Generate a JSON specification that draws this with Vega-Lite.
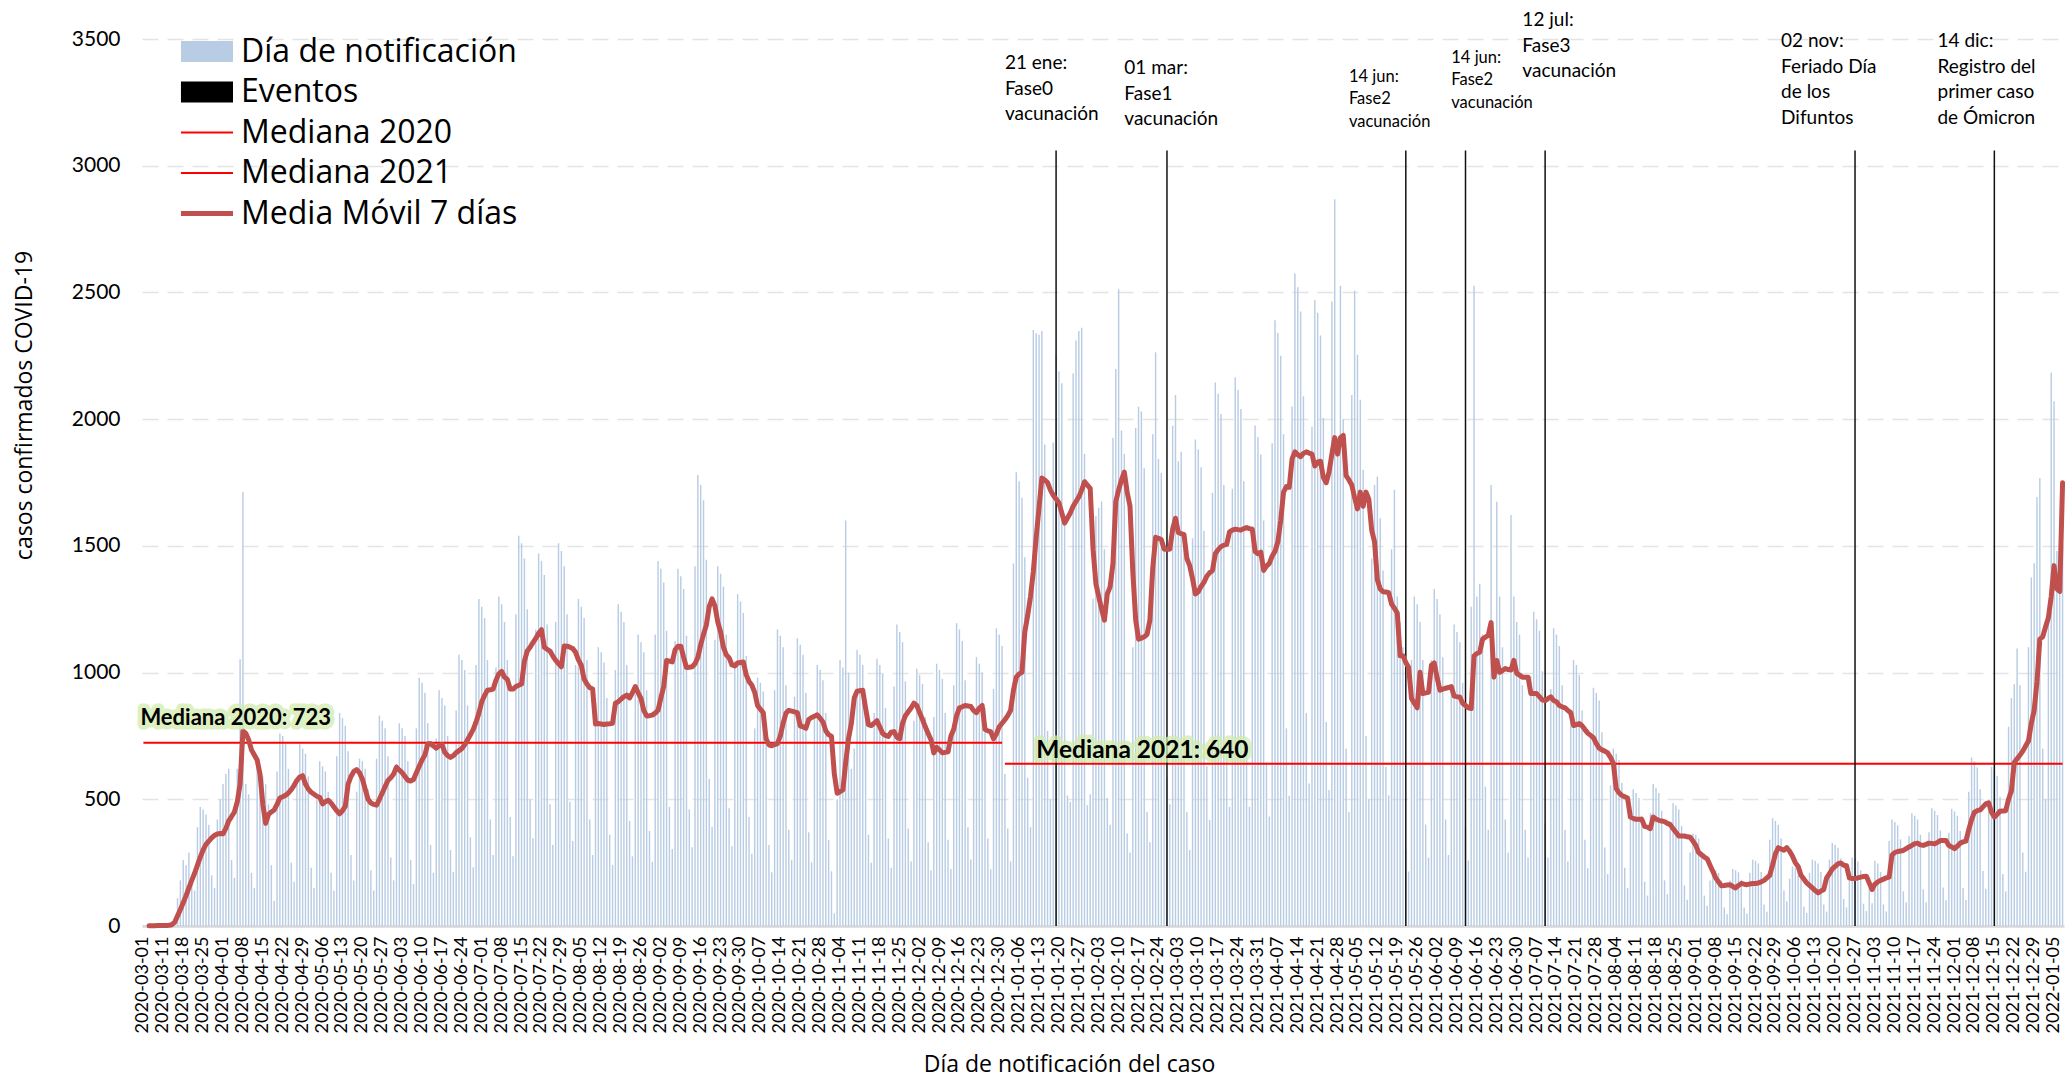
{
"$schema":"https://vega.github.io/schema/vega-lite/v6.json",
"width":1922,"height":887,
"autosize":{"type":"none"},
"padding":{"left":142,"top":39,"right":1,"bottom":154},
"background":"white",
"config":{"font":"Lato","view":{"stroke":null},"axis":{"labelColor":"#000","titleColor":"#000","titleFontWeight":"normal","labelFont":"Lato","titleFont":"Open Sans"}},
"datasets":{
"main":[
{"d":"2020-03-01","c":1},{"d":"2020-03-05","c":2},{"d":"2020-03-06","c":1,"m":1},{"d":"2020-03-07","c":1,"m":1},{"d":"2020-03-08","c":0,"m":1},{"d":"2020-03-09","c":3,"m":2},{"d":"2020-03-10","c":2,"m":2},{"d":"2020-03-11","c":3,"m":2},{"d":"2020-03-12","c":1,"m":2},{"d":"2020-03-13","c":6,"m":3},{"d":"2020-03-14","c":12,"m":5},{"d":"2020-03-15","c":25,"m":15},{"d":"2020-03-16","c":110,"m":40},{"d":"2020-03-17","c":180,"m":65},{"d":"2020-03-18","c":260,"m":92},{"d":"2020-03-19","c":240,"m":120},{"d":"2020-03-20","c":290,"m":150},{"d":"2020-03-21","c":180,"m":180},{"d":"2020-03-22","c":140,"m":208},{"d":"2020-03-23","c":390,"m":240},{"d":"2020-03-24","c":470,"m":272},{"d":"2020-03-25","c":460,"m":300},{"d":"2020-03-26","c":440,"m":322},{"d":"2020-03-27","c":400,"m":335},{"d":"2020-03-28","c":200,"m":348},{"d":"2020-03-29","c":150,"m":358},{"d":"2020-03-30","c":420,"m":363},{"d":"2020-03-31","c":500,"m":365},
{"d":"2020-04-01","c":560,"m":364},{"d":"2020-04-02","c":600,"m":385},{"d":"2020-04-03","c":620,"m":415},{"d":"2020-04-04","c":260,"m":432},{"d":"2020-04-05","c":190,"m":450},{"d":"2020-04-06","c":620,"m":490},{"d":"2020-04-07","c":1053,"m":560},{"d":"2020-04-08","c":1713,"m":770},{"d":"2020-04-09","c":560,"m":760},{"d":"2020-04-10","c":520,"m":735},{"d":"2020-04-11","c":210,"m":695},{"d":"2020-04-12","c":150,"m":675},{"d":"2020-04-13","c":640,"m":655},{"d":"2020-04-14","c":600,"m":600},{"d":"2020-04-15","c":590,"m":480},{"d":"2020-04-16","c":560,"m":405},{"d":"2020-04-17","c":480,"m":440},{"d":"2020-04-18","c":240,"m":450},{"d":"2020-04-19","c":100,"m":458},{"d":"2020-04-20","c":610,"m":480},{"d":"2020-04-21","c":760,"m":505},{"d":"2020-04-22","c":750,"m":510},{"d":"2020-04-23","c":720,"m":516},{"d":"2020-04-24","c":620,"m":525},{"d":"2020-04-25","c":250,"m":538},{"d":"2020-04-26","c":175,"m":555},{"d":"2020-04-27","c":570,"m":575},{"d":"2020-04-28","c":720,"m":588},{"d":"2020-04-29","c":700,"m":593},{"d":"2020-04-30","c":680,"m":560},
{"d":"2020-05-01","c":590,"m":540},{"d":"2020-05-02","c":230,"m":528},{"d":"2020-05-03","c":150,"m":520},{"d":"2020-05-04","c":520,"m":512},{"d":"2020-05-05","c":650,"m":508},{"d":"2020-05-06","c":630,"m":482},{"d":"2020-05-07","c":610,"m":490},{"d":"2020-05-08","c":530,"m":496},{"d":"2020-05-09","c":210,"m":485},{"d":"2020-05-10","c":140,"m":470},{"d":"2020-05-11","c":670,"m":455},{"d":"2020-05-12","c":840,"m":443},{"d":"2020-05-13","c":820,"m":455},{"d":"2020-05-14","c":790,"m":472},{"d":"2020-05-15","c":690,"m":560},{"d":"2020-05-16","c":280,"m":590},{"d":"2020-05-17","c":180,"m":610},{"d":"2020-05-18","c":530,"m":617},{"d":"2020-05-19","c":660,"m":605},{"d":"2020-05-20","c":650,"m":580},{"d":"2020-05-21","c":620,"m":540},{"d":"2020-05-22","c":540,"m":500},{"d":"2020-05-23","c":220,"m":485},{"d":"2020-05-24","c":140,"m":480},{"d":"2020-05-25","c":660,"m":477},{"d":"2020-05-26","c":830,"m":500},{"d":"2020-05-27","c":810,"m":525},{"d":"2020-05-28","c":780,"m":550},{"d":"2020-05-29","c":670,"m":574},{"d":"2020-05-30","c":270,"m":585},{"d":"2020-05-31","c":180,"m":600},
{"d":"2020-06-01","c":640,"m":627},{"d":"2020-06-02","c":800,"m":615},{"d":"2020-06-03","c":780,"m":605},{"d":"2020-06-04","c":750,"m":590},{"d":"2020-06-05","c":650,"m":575},{"d":"2020-06-06","c":260,"m":572},{"d":"2020-06-07","c":166,"m":578},{"d":"2020-06-08","c":780,"m":605},{"d":"2020-06-09","c":980,"m":630},{"d":"2020-06-10","c":960,"m":655},{"d":"2020-06-11","c":920,"m":675},{"d":"2020-06-12","c":800,"m":718},{"d":"2020-06-13","c":320,"m":720},{"d":"2020-06-14","c":210,"m":710},{"d":"2020-06-15","c":740,"m":702},{"d":"2020-06-16","c":930,"m":712},{"d":"2020-06-17","c":900,"m":716},{"d":"2020-06-18","c":870,"m":685},{"d":"2020-06-19","c":750,"m":672},{"d":"2020-06-20","c":300,"m":665},{"d":"2020-06-21","c":214,"m":672},{"d":"2020-06-22","c":850,"m":684},{"d":"2020-06-23","c":1070,"m":692},{"d":"2020-06-24","c":1050,"m":700},{"d":"2020-06-25","c":1010,"m":715},{"d":"2020-06-26","c":870,"m":735},{"d":"2020-06-27","c":350,"m":755},{"d":"2020-06-28","c":232,"m":776},{"d":"2020-06-29","c":1030,"m":805},{"d":"2020-06-30","c":1290,"m":840},
{"d":"2020-07-01","c":1260,"m":885},{"d":"2020-07-02","c":1215,"m":910},{"d":"2020-07-03","c":1050,"m":930},{"d":"2020-07-04","c":420,"m":932},{"d":"2020-07-05","c":280,"m":935},{"d":"2020-07-06","c":1020,"m":970},{"d":"2020-07-07","c":1300,"m":995},{"d":"2020-07-08","c":1270,"m":1005},{"d":"2020-07-09","c":1200,"m":982},{"d":"2020-07-10","c":1050,"m":973},{"d":"2020-07-11","c":430,"m":935},{"d":"2020-07-12","c":275,"m":935},{"d":"2020-07-13","c":1230,"m":945},{"d":"2020-07-14","c":1540,"m":950},{"d":"2020-07-15","c":1510,"m":955},{"d":"2020-07-16","c":1450,"m":1045},{"d":"2020-07-17","c":1250,"m":1085},{"d":"2020-07-18","c":500,"m":1100},{"d":"2020-07-19","c":346,"m":1118},{"d":"2020-07-20","c":1170,"m":1135},{"d":"2020-07-21","c":1470,"m":1155},{"d":"2020-07-22","c":1440,"m":1169},{"d":"2020-07-23","c":1385,"m":1100},{"d":"2020-07-24","c":1190,"m":1092},{"d":"2020-07-25","c":480,"m":1085},{"d":"2020-07-26","c":320,"m":1065},{"d":"2020-07-27","c":1200,"m":1048},{"d":"2020-07-28","c":1510,"m":1035},{"d":"2020-07-29","c":1480,"m":1023},{"d":"2020-07-30","c":1420,"m":1105},{"d":"2020-07-31","c":1230,"m":1104},
{"d":"2020-08-01","c":490,"m":1100},{"d":"2020-08-02","c":335,"m":1095},{"d":"2020-08-03","c":1030,"m":1080},{"d":"2020-08-04","c":1290,"m":1050},{"d":"2020-08-05","c":1260,"m":1029},{"d":"2020-08-06","c":1215,"m":975},{"d":"2020-08-07","c":1050,"m":955},{"d":"2020-08-08","c":420,"m":940},{"d":"2020-08-09","c":280,"m":935},{"d":"2020-08-10","c":880,"m":797},{"d":"2020-08-11","c":1100,"m":799},{"d":"2020-08-12","c":1080,"m":797},{"d":"2020-08-13","c":1040,"m":795},{"d":"2020-08-14","c":900,"m":797},{"d":"2020-08-15","c":360,"m":798},{"d":"2020-08-16","c":240,"m":800},{"d":"2020-08-17","c":1010,"m":879},{"d":"2020-08-18","c":1270,"m":885},{"d":"2020-08-19","c":1240,"m":895},{"d":"2020-08-20","c":1200,"m":905},{"d":"2020-08-21","c":1030,"m":911},{"d":"2020-08-22","c":415,"m":900},{"d":"2020-08-23","c":275,"m":920},{"d":"2020-08-24","c":915,"m":945},{"d":"2020-08-25","c":1150,"m":920},{"d":"2020-08-26","c":1120,"m":898},{"d":"2020-08-27","c":1080,"m":850},{"d":"2020-08-28","c":930,"m":829},{"d":"2020-08-29","c":375,"m":830},{"d":"2020-08-30","c":254,"m":832},{"d":"2020-08-31","c":1150,"m":840},
{"d":"2020-09-01","c":1440,"m":851},{"d":"2020-09-02","c":1410,"m":900},{"d":"2020-09-03","c":1355,"m":945},{"d":"2020-09-04","c":1165,"m":1048},{"d":"2020-09-05","c":470,"m":1045},{"d":"2020-09-06","c":304,"m":1042},{"d":"2020-09-07","c":1125,"m":1090},{"d":"2020-09-08","c":1410,"m":1104},{"d":"2020-09-09","c":1380,"m":1104},{"d":"2020-09-10","c":1330,"m":1060},{"d":"2020-09-11","c":1145,"m":1020},{"d":"2020-09-12","c":460,"m":1021},{"d":"2020-09-13","c":311,"m":1023},{"d":"2020-09-14","c":1420,"m":1035},{"d":"2020-09-15","c":1780,"m":1060},{"d":"2020-09-16","c":1740,"m":1110},{"d":"2020-09-17","c":1680,"m":1151},{"d":"2020-09-18","c":1445,"m":1188},{"d":"2020-09-19","c":580,"m":1260},{"d":"2020-09-20","c":392,"m":1291},{"d":"2020-09-21","c":1130,"m":1263},{"d":"2020-09-22","c":1420,"m":1200},{"d":"2020-09-23","c":1390,"m":1160},{"d":"2020-09-24","c":1340,"m":1100},{"d":"2020-09-25","c":1150,"m":1070},{"d":"2020-09-26","c":465,"m":1058},{"d":"2020-09-27","c":315,"m":1030},{"d":"2020-09-28","c":1045,"m":1026},{"d":"2020-09-29","c":1310,"m":1038},{"d":"2020-09-30","c":1280,"m":1040},
{"d":"2020-10-01","c":1235,"m":1042},{"d":"2020-10-02","c":1065,"m":992},{"d":"2020-10-03","c":430,"m":965},{"d":"2020-10-04","c":285,"m":950},{"d":"2020-10-05","c":780,"m":922},{"d":"2020-10-06","c":980,"m":870},{"d":"2020-10-07","c":960,"m":855},{"d":"2020-10-08","c":925,"m":842},{"d":"2020-10-09","c":800,"m":739},{"d":"2020-10-10","c":320,"m":715},{"d":"2020-10-11","c":212,"m":711},{"d":"2020-10-12","c":930,"m":716},{"d":"2020-10-13","c":1170,"m":720},{"d":"2020-10-14","c":1145,"m":750},{"d":"2020-10-15","c":1100,"m":800},{"d":"2020-10-16","c":950,"m":840},{"d":"2020-10-17","c":380,"m":851},{"d":"2020-10-18","c":261,"m":848},{"d":"2020-10-19","c":905,"m":845},{"d":"2020-10-20","c":1135,"m":842},{"d":"2020-10-21","c":1110,"m":790},{"d":"2020-10-22","c":1070,"m":786},{"d":"2020-10-23","c":920,"m":780},{"d":"2020-10-24","c":370,"m":815},{"d":"2020-10-25","c":251,"m":823},{"d":"2020-10-26","c":820,"m":828},{"d":"2020-10-27","c":1030,"m":833},{"d":"2020-10-28","c":1010,"m":820},{"d":"2020-10-29","c":970,"m":805},{"d":"2020-10-30","c":840,"m":770},{"d":"2020-10-31","c":340,"m":755},
{"d":"2020-11-01","c":216,"m":748},{"d":"2020-11-02","c":50,"m":600},{"d":"2020-11-03","c":500,"m":524},{"d":"2020-11-04","c":1050,"m":530},{"d":"2020-11-05","c":1020,"m":537},{"d":"2020-11-06","c":1600,"m":645},{"d":"2020-11-07","c":1000,"m":740},{"d":"2020-11-08","c":620,"m":800},{"d":"2020-11-09","c":700,"m":900},{"d":"2020-11-10","c":1090,"m":926},{"d":"2020-11-11","c":1070,"m":928},{"d":"2020-11-12","c":1030,"m":930},{"d":"2020-11-13","c":885,"m":860},{"d":"2020-11-14","c":360,"m":795},{"d":"2020-11-15","c":250,"m":791},{"d":"2020-11-16","c":840,"m":800},{"d":"2020-11-17","c":1055,"m":810},{"d":"2020-11-18","c":1030,"m":785},{"d":"2020-11-19","c":995,"m":760},{"d":"2020-11-20","c":860,"m":752},{"d":"2020-11-21","c":345,"m":748},{"d":"2020-11-22","c":230,"m":765},{"d":"2020-11-23","c":945,"m":767},{"d":"2020-11-24","c":1190,"m":745},{"d":"2020-11-25","c":1160,"m":739},{"d":"2020-11-26","c":1120,"m":800},{"d":"2020-11-27","c":965,"m":830},{"d":"2020-11-28","c":385,"m":845},{"d":"2020-11-29","c":255,"m":860},{"d":"2020-11-30","c":810,"m":879},
{"d":"2020-12-01","c":1015,"m":870},{"d":"2020-12-02","c":990,"m":842},{"d":"2020-12-03","c":955,"m":815},{"d":"2020-12-04","c":825,"m":786},{"d":"2020-12-05","c":330,"m":760},{"d":"2020-12-06","c":220,"m":735},{"d":"2020-12-07","c":825,"m":683},{"d":"2020-12-08","c":1035,"m":705},{"d":"2020-12-09","c":1010,"m":695},{"d":"2020-12-10","c":975,"m":683},{"d":"2020-12-11","c":840,"m":685},{"d":"2020-12-12","c":340,"m":687},{"d":"2020-12-13","c":225,"m":750},{"d":"2020-12-14","c":950,"m":776},{"d":"2020-12-15","c":1195,"m":830},{"d":"2020-12-16","c":1170,"m":861},{"d":"2020-12-17","c":1125,"m":865},{"d":"2020-12-18","c":970,"m":870},{"d":"2020-12-19","c":390,"m":868},{"d":"2020-12-20","c":262,"m":866},{"d":"2020-12-21","c":845,"m":850},{"d":"2020-12-22","c":1060,"m":842},{"d":"2020-12-23","c":1035,"m":860},{"d":"2020-12-24","c":1000,"m":870},{"d":"2020-12-25","c":860,"m":776},{"d":"2020-12-26","c":345,"m":770},{"d":"2020-12-27","c":224,"m":767},{"d":"2020-12-28","c":935,"m":739},{"d":"2020-12-29","c":1175,"m":758},{"d":"2020-12-30","c":1150,"m":786},{"d":"2020-12-31","c":1105,"m":800},
{"d":"2021-01-01","c":600,"m":814},{"d":"2021-01-02","c":385,"m":830},{"d":"2021-01-03","c":255,"m":851},{"d":"2021-01-04","c":1430,"m":930},{"d":"2021-01-05","c":1790,"m":982},{"d":"2021-01-06","c":1755,"m":995},{"d":"2021-01-07","c":1690,"m":1001},{"d":"2021-01-08","c":1455,"m":1160},{"d":"2021-01-09","c":585,"m":1225},{"d":"2021-01-10","c":390,"m":1300},{"d":"2021-01-11","c":2352,"m":1400},{"d":"2021-01-12","c":2339,"m":1534},{"d":"2021-01-13","c":2333,"m":1650},{"d":"2021-01-14","c":2348,"m":1768},{"d":"2021-01-15","c":1900,"m":1760},{"d":"2021-01-16","c":770,"m":1750},{"d":"2021-01-17","c":500,"m":1720},{"d":"2021-01-18","c":1908,"m":1700},{"d":"2021-01-19","c":2254,"m":1685},{"d":"2021-01-20","c":2189,"m":1670},{"d":"2021-01-21","c":2142,"m":1630},{"d":"2021-01-22","c":1600,"m":1590},{"d":"2021-01-23","c":515,"m":1610},{"d":"2021-01-24","c":490,"m":1630},{"d":"2021-01-25","c":2180,"m":1656},{"d":"2021-01-26","c":2310,"m":1675},{"d":"2021-01-27","c":2348,"m":1693},{"d":"2021-01-28","c":2361,"m":1720},{"d":"2021-01-29","c":1862,"m":1753},{"d":"2021-01-30","c":477,"m":1740},{"d":"2021-01-31","c":520,"m":1727},
{"d":"2021-02-01","c":1291,"m":1487},{"d":"2021-02-02","c":1618,"m":1350},{"d":"2021-02-03","c":1650,"m":1300},{"d":"2021-02-04","c":1675,"m":1250},{"d":"2021-02-05","c":1487,"m":1207},{"d":"2021-02-06","c":505,"m":1310},{"d":"2021-02-07","c":400,"m":1338},{"d":"2021-02-08","c":1927,"m":1430},{"d":"2021-02-09","c":2198,"m":1675},{"d":"2021-02-10","c":2513,"m":1721},{"d":"2021-02-11","c":1955,"m":1760},{"d":"2021-02-12","c":1862,"m":1791},{"d":"2021-02-13","c":365,"m":1712},{"d":"2021-02-14","c":290,"m":1656},{"d":"2021-02-15","c":1100,"m":1394},{"d":"2021-02-16","c":1965,"m":1207},{"d":"2021-02-17","c":2049,"m":1132},{"d":"2021-02-18","c":2030,"m":1136},{"d":"2021-02-19","c":1806,"m":1141},{"d":"2021-02-20","c":450,"m":1151},{"d":"2021-02-21","c":330,"m":1207},{"d":"2021-02-22","c":1940,"m":1413},{"d":"2021-02-23","c":2264,"m":1534},{"d":"2021-02-24","c":1843,"m":1530},{"d":"2021-02-25","c":1787,"m":1525},{"d":"2021-02-26","c":1500,"m":1487},{"d":"2021-02-27","c":589,"m":1487},{"d":"2021-02-28","c":480,"m":1487},
{"d":"2021-03-01","c":1974,"m":1566},{"d":"2021-03-02","c":2095,"m":1609},{"d":"2021-03-03","c":1834,"m":1553},{"d":"2021-03-04","c":1871,"m":1548},{"d":"2021-03-05","c":1500,"m":1544},{"d":"2021-03-06","c":450,"m":1450},{"d":"2021-03-07","c":300,"m":1422},{"d":"2021-03-08","c":1530,"m":1370},{"d":"2021-03-09","c":1920,"m":1310},{"d":"2021-03-10","c":1880,"m":1319},{"d":"2021-03-11","c":1810,"m":1340},{"d":"2021-03-12","c":1560,"m":1356},{"d":"2021-03-13","c":630,"m":1380},{"d":"2021-03-14","c":418,"m":1394},{"d":"2021-03-15","c":1710,"m":1403},{"d":"2021-03-16","c":2145,"m":1469},{"d":"2021-03-17","c":2100,"m":1485},{"d":"2021-03-18","c":2020,"m":1497},{"d":"2021-03-19","c":1740,"m":1503},{"d":"2021-03-20","c":700,"m":1506},{"d":"2021-03-21","c":470,"m":1555},{"d":"2021-03-22","c":1725,"m":1562},{"d":"2021-03-23","c":2165,"m":1566},{"d":"2021-03-24","c":2115,"m":1564},{"d":"2021-03-25","c":2040,"m":1562},{"d":"2021-03-26","c":1755,"m":1568},{"d":"2021-03-27","c":705,"m":1572},{"d":"2021-03-28","c":470,"m":1568},{"d":"2021-03-29","c":1575,"m":1566},{"d":"2021-03-30","c":1975,"m":1478},{"d":"2021-03-31","c":1930,"m":1469},
{"d":"2021-04-01","c":1860,"m":1475},{"d":"2021-04-02","c":1600,"m":1403},{"d":"2021-04-03","c":645,"m":1420},{"d":"2021-04-04","c":432,"m":1431},{"d":"2021-04-05","c":1905,"m":1460},{"d":"2021-04-06","c":2390,"m":1478},{"d":"2021-04-07","c":2340,"m":1516},{"d":"2021-04-08","c":2250,"m":1600},{"d":"2021-04-09","c":1940,"m":1712},{"d":"2021-04-10","c":780,"m":1734},{"d":"2021-04-11","c":514,"m":1731},{"d":"2021-04-12","c":2050,"m":1843},{"d":"2021-04-13","c":2575,"m":1871},{"d":"2021-04-14","c":2520,"m":1860},{"d":"2021-04-15","c":2425,"m":1852},{"d":"2021-04-16","c":2090,"m":1865},{"d":"2021-04-17","c":840,"m":1871},{"d":"2021-04-18","c":562,"m":1866},{"d":"2021-04-19","c":1970,"m":1862},{"d":"2021-04-20","c":2470,"m":1815},{"d":"2021-04-21","c":2420,"m":1830},{"d":"2021-04-22","c":2330,"m":1834},{"d":"2021-04-23","c":2005,"m":1770},{"d":"2021-04-24","c":805,"m":1749},{"d":"2021-04-25","c":537,"m":1791},{"d":"2021-04-26","c":2464,"m":1862},{"d":"2021-04-27","c":2868,"m":1927},{"d":"2021-04-28","c":1900,"m":1862},{"d":"2021-04-29","c":2526,"m":1927},{"d":"2021-04-30","c":2000,"m":1936},
{"d":"2021-05-01","c":700,"m":1777},{"d":"2021-05-02","c":450,"m":1760},{"d":"2021-05-03","c":2095,"m":1740},{"d":"2021-05-04","c":2507,"m":1690},{"d":"2021-05-05","c":2254,"m":1646},{"d":"2021-05-06","c":2077,"m":1712},{"d":"2021-05-07","c":1800,"m":1656},{"d":"2021-05-08","c":750,"m":1712},{"d":"2021-05-09","c":500,"m":1684},{"d":"2021-05-10","c":1450,"m":1562},{"d":"2021-05-11","c":1740,"m":1516},{"d":"2021-05-12","c":1774,"m":1366},{"d":"2021-05-13","c":1609,"m":1330},{"d":"2021-05-14","c":1403,"m":1319},{"d":"2021-05-15","c":627,"m":1318},{"d":"2021-05-16","c":515,"m":1315},{"d":"2021-05-17","c":1487,"m":1270},{"d":"2021-05-18","c":1721,"m":1254},{"d":"2021-05-19","c":1300,"m":1235},{"d":"2021-05-20","c":1200,"m":1066},{"d":"2021-05-21","c":1100,"m":1066},{"d":"2021-05-22","c":300,"m":1040},{"d":"2021-05-23","c":215,"m":1020},{"d":"2021-05-24","c":1050,"m":898},{"d":"2021-05-25","c":1300,"m":879},{"d":"2021-05-26","c":1270,"m":861},{"d":"2021-05-27","c":1200,"m":1001},{"d":"2021-05-28","c":1050,"m":917},{"d":"2021-05-29","c":400,"m":920},{"d":"2021-05-30","c":270,"m":922},{"d":"2021-05-31","c":1050,"m":1029},
{"d":"2021-06-01","c":1330,"m":1038},{"d":"2021-06-02","c":1290,"m":980},{"d":"2021-06-03","c":1230,"m":930},{"d":"2021-06-04","c":1060,"m":935},{"d":"2021-06-05","c":420,"m":938},{"d":"2021-06-06","c":280,"m":941},{"d":"2021-06-07","c":950,"m":945},{"d":"2021-06-08","c":1190,"m":907},{"d":"2021-06-09","c":1160,"m":905},{"d":"2021-06-10","c":1120,"m":904},{"d":"2021-06-11","c":960,"m":879},{"d":"2021-06-12","c":390,"m":870},{"d":"2021-06-13","c":258,"m":861},{"d":"2021-06-14","c":1260,"m":858},{"d":"2021-06-15","c":2526,"m":1066},{"d":"2021-06-16","c":1300,"m":1075},{"d":"2021-06-17","c":1350,"m":1080},{"d":"2021-06-18","c":1150,"m":1132},{"d":"2021-06-19","c":550,"m":1140},{"d":"2021-06-20","c":380,"m":1147},{"d":"2021-06-21","c":1740,"m":1197},{"d":"2021-06-22","c":1100,"m":982},{"d":"2021-06-23","c":1674,"m":1048},{"d":"2021-06-24","c":1300,"m":1001},{"d":"2021-06-25","c":1100,"m":1008},{"d":"2021-06-26","c":420,"m":1016},{"d":"2021-06-27","c":290,"m":1012},{"d":"2021-06-28","c":1622,"m":1010},{"d":"2021-06-29","c":1300,"m":1048},{"d":"2021-06-30","c":1200,"m":997},
{"d":"2021-07-01","c":1150,"m":990},{"d":"2021-07-02","c":950,"m":982},{"d":"2021-07-03","c":380,"m":982},{"d":"2021-07-04","c":270,"m":982},{"d":"2021-07-05","c":985,"m":917},{"d":"2021-07-06","c":1240,"m":917},{"d":"2021-07-07","c":1210,"m":917},{"d":"2021-07-08","c":1165,"m":905},{"d":"2021-07-09","c":1005,"m":892},{"d":"2021-07-10","c":405,"m":889},{"d":"2021-07-11","c":270,"m":897},{"d":"2021-07-12","c":935,"m":904},{"d":"2021-07-13","c":1175,"m":890},{"d":"2021-07-14","c":1150,"m":885},{"d":"2021-07-15","c":1105,"m":870},{"d":"2021-07-16","c":950,"m":865},{"d":"2021-07-17","c":380,"m":861},{"d":"2021-07-18","c":255,"m":850},{"d":"2021-07-19","c":840,"m":842},{"d":"2021-07-20","c":1050,"m":791},{"d":"2021-07-21","c":1030,"m":795},{"d":"2021-07-22","c":990,"m":799},{"d":"2021-07-23","c":850,"m":790},{"d":"2021-07-24","c":340,"m":775},{"d":"2021-07-25","c":228,"m":761},{"d":"2021-07-26","c":750,"m":752},{"d":"2021-07-27","c":940,"m":743},{"d":"2021-07-28","c":920,"m":720},{"d":"2021-07-29","c":890,"m":702},{"d":"2021-07-30","c":765,"m":695},{"d":"2021-07-31","c":310,"m":690},
{"d":"2021-08-01","c":205,"m":683},{"d":"2021-08-02","c":555,"m":665},{"d":"2021-08-03","c":700,"m":642},{"d":"2021-08-04","c":680,"m":543},{"d":"2021-08-05","c":655,"m":525},{"d":"2021-08-06","c":565,"m":515},{"d":"2021-08-07","c":230,"m":510},{"d":"2021-08-08","c":150,"m":505},{"d":"2021-08-09","c":430,"m":430},{"d":"2021-08-10","c":540,"m":425},{"d":"2021-08-11","c":525,"m":421},{"d":"2021-08-12","c":505,"m":421},{"d":"2021-08-13","c":435,"m":421},{"d":"2021-08-14","c":175,"m":393},{"d":"2021-08-15","c":120,"m":390},{"d":"2021-08-16","c":445,"m":384},{"d":"2021-08-17","c":560,"m":430},{"d":"2021-08-18","c":545,"m":422},{"d":"2021-08-19","c":525,"m":417},{"d":"2021-08-20","c":455,"m":414},{"d":"2021-08-21","c":180,"m":412},{"d":"2021-08-22","c":125,"m":405},{"d":"2021-08-23","c":385,"m":400},{"d":"2021-08-24","c":485,"m":384},{"d":"2021-08-25","c":475,"m":370},{"d":"2021-08-26","c":460,"m":355},{"d":"2021-08-27","c":395,"m":355},{"d":"2021-08-28","c":160,"m":355},{"d":"2021-08-29","c":104,"m":352},{"d":"2021-08-30","c":290,"m":350},{"d":"2021-08-31","c":365,"m":335},
{"d":"2021-09-01","c":360,"m":318},{"d":"2021-09-02","c":345,"m":290},{"d":"2021-09-03","c":295,"m":281},{"d":"2021-09-04","c":120,"m":272},{"d":"2021-09-05","c":80,"m":265},{"d":"2021-09-06","c":180,"m":240},{"d":"2021-09-07","c":225,"m":215},{"d":"2021-09-08","c":220,"m":190},{"d":"2021-09-09","c":210,"m":174},{"d":"2021-09-10","c":180,"m":159},{"d":"2021-09-11","c":73,"m":160},{"d":"2021-09-12","c":46,"m":162},{"d":"2021-09-13","c":180,"m":163},{"d":"2021-09-14","c":225,"m":156},{"d":"2021-09-15","c":220,"m":150},{"d":"2021-09-16","c":212,"m":160},{"d":"2021-09-17","c":182,"m":168},{"d":"2021-09-18","c":73,"m":165},{"d":"2021-09-19","c":49,"m":163},{"d":"2021-09-20","c":210,"m":166},{"d":"2021-09-21","c":262,"m":168},{"d":"2021-09-22","c":257,"m":168},{"d":"2021-09-23","c":247,"m":170},{"d":"2021-09-24","c":213,"m":174},{"d":"2021-09-25","c":85,"m":180},{"d":"2021-09-26","c":56,"m":190},{"d":"2021-09-27","c":340,"m":200},{"d":"2021-09-28","c":425,"m":240},{"d":"2021-09-29","c":415,"m":285},{"d":"2021-09-30","c":400,"m":309},
{"d":"2021-10-01","c":345,"m":304},{"d":"2021-10-02","c":140,"m":299},{"d":"2021-10-03","c":98,"m":309},{"d":"2021-10-04","c":187,"m":295},{"d":"2021-10-05","c":235,"m":275},{"d":"2021-10-06","c":230,"m":250},{"d":"2021-10-07","c":220,"m":235},{"d":"2021-10-08","c":190,"m":200},{"d":"2021-10-09","c":77,"m":185},{"d":"2021-10-10","c":51,"m":170},{"d":"2021-10-11","c":209,"m":160},{"d":"2021-10-12","c":262,"m":150},{"d":"2021-10-13","c":257,"m":140},{"d":"2021-10-14","c":247,"m":131},{"d":"2021-10-15","c":213,"m":138},{"d":"2021-10-16","c":85,"m":144},{"d":"2021-10-17","c":57,"m":190},{"d":"2021-10-18","c":262,"m":206},{"d":"2021-10-19","c":328,"m":225},{"d":"2021-10-20","c":321,"m":235},{"d":"2021-10-21","c":309,"m":245},{"d":"2021-10-22","c":266,"m":249},{"d":"2021-10-23","c":107,"m":240},{"d":"2021-10-24","c":73,"m":238},{"d":"2021-10-25","c":215,"m":190},{"d":"2021-10-26","c":270,"m":187},{"d":"2021-10-27","c":265,"m":187},{"d":"2021-10-28","c":255,"m":190},{"d":"2021-10-29","c":220,"m":193},{"d":"2021-10-30","c":88,"m":195},{"d":"2021-10-31","c":59,"m":196},
{"d":"2021-11-01","c":150,"m":170},{"d":"2021-11-02","c":90,"m":144},{"d":"2021-11-03","c":257,"m":165},{"d":"2021-11-04","c":247,"m":174},{"d":"2021-11-05","c":213,"m":180},{"d":"2021-11-06","c":85,"m":185},{"d":"2021-11-07","c":57,"m":190},{"d":"2021-11-08","c":335,"m":193},{"d":"2021-11-09","c":420,"m":280},{"d":"2021-11-10","c":410,"m":290},{"d":"2021-11-11","c":397,"m":294},{"d":"2021-11-12","c":342,"m":296},{"d":"2021-11-13","c":137,"m":298},{"d":"2021-11-14","c":94,"m":305},{"d":"2021-11-15","c":355,"m":312},{"d":"2021-11-16","c":445,"m":318},{"d":"2021-11-17","c":435,"m":325},{"d":"2021-11-18","c":420,"m":327},{"d":"2021-11-19","c":360,"m":320},{"d":"2021-11-20","c":145,"m":318},{"d":"2021-11-21","c":94,"m":322},{"d":"2021-11-22","c":370,"m":327},{"d":"2021-11-23","c":465,"m":326},{"d":"2021-11-24","c":455,"m":324},{"d":"2021-11-25","c":438,"m":330},{"d":"2021-11-26","c":377,"m":337},{"d":"2021-11-27","c":152,"m":337},{"d":"2021-11-28","c":102,"m":337},{"d":"2021-11-29","c":368,"m":318},{"d":"2021-11-30","c":462,"m":312},
{"d":"2021-12-01","c":452,"m":305},{"d":"2021-12-02","c":435,"m":315},{"d":"2021-12-03","c":375,"m":327},{"d":"2021-12-04","c":150,"m":332},{"d":"2021-12-05","c":103,"m":335},{"d":"2021-12-06","c":530,"m":380},{"d":"2021-12-07","c":665,"m":420},{"d":"2021-12-08","c":650,"m":449},{"d":"2021-12-09","c":625,"m":455},{"d":"2021-12-10","c":540,"m":458},{"d":"2021-12-11","c":217,"m":470},{"d":"2021-12-12","c":147,"m":482},{"d":"2021-12-13","c":500,"m":486},{"d":"2021-12-14","c":628,"m":449},{"d":"2021-12-15","c":614,"m":430},{"d":"2021-12-16","c":592,"m":440},{"d":"2021-12-17","c":510,"m":453},{"d":"2021-12-18","c":205,"m":454},{"d":"2021-12-19","c":136,"m":455},{"d":"2021-12-20","c":786,"m":500},{"d":"2021-12-21","c":900,"m":533},{"d":"2021-12-22","c":954,"m":645},{"d":"2021-12-23","c":1095,"m":660},{"d":"2021-12-24","c":950,"m":674},{"d":"2021-12-25","c":290,"m":690},{"d":"2021-12-26","c":214,"m":710},{"d":"2021-12-27","c":1100,"m":730},{"d":"2021-12-28","c":1375,"m":800},{"d":"2021-12-29","c":1431,"m":850},{"d":"2021-12-30","c":1693,"m":964},{"d":"2021-12-31","c":1768,"m":1132},
{"d":"2022-01-01","c":700,"m":1141},{"d":"2022-01-02","c":500,"m":1180},{"d":"2022-01-03","c":1250,"m":1216},{"d":"2022-01-04","c":2183,"m":1300},{"d":"2022-01-05","c":2071,"m":1422},{"d":"2022-01-06","c":1480,"m":1330},{"d":"2022-01-07","c":1550,"m":1320},{"d":"2022-01-08","c":1500,"m":1749}
],
"medians":[
{"a":"2020-03-01","b":"2020-12-31","v":723,"t":"Mediana 2020: 723","tx":"2020-03-01","ty":820},
{"a":"2021-01-01","b":"2022-01-08","v":640,"t":"Mediana 2021: 640","tx":"2021-01-12","ty":690}
],
"events":[
{"d":"2021-01-19","t":["21 ene:","Fase0","vacunación"],"tx":"2021-01-01","ty":3440},
{"d":"2021-02-27","t":["01 mar:","Fase1","vacunación"],"tx":"2021-02-12","ty":3420},
{"d":"2021-05-22","t":["14 jun:","Fase2","vacunación"],"tx":"2021-05-02","ty":3382},
{"d":"2021-06-12","t":["14 jun:","Fase2","vacunación"],"tx":"2021-06-07","ty":3457},
{"d":"2021-07-10","t":["12 jul:","Fase3","vacunación"],"tx":"2021-07-02","ty":3609},
{"d":"2021-10-27","t":["02 nov:","Feriado Día","de los","Difuntos"],"tx":"2021-10-01","ty":3527},
{"d":"2021-12-15","t":["14 dic:","Registro del","primer caso","de Ómicron"],"tx":"2021-11-25","ty":3527}
]
},
"layer":[
{"data":{"name":"main"},
 "mark":{"type":"bar"},
 "encoding":{
  "x":{"field":"d","type":"ordinal","scale":{"paddingInner":0.5,"paddingOuter":0.25},
   "axis":{"title":"Día de notificación del caso","titleFontSize":23,"titleX":927,"titleY":138,"titleBaseline":"middle","labelAngle":-90,"labelFontSize":18,"labelPadding":10,"ticks":false,"grid":false,"labelOverlap":false,"labelBound":false,"labelFlush":false,"bandPosition":0.5,"domainColor":"#d9d9d9","domainWidth":2.5,"labelLimit":0,
    "values":["2020-03-01","2020-03-11","2020-03-18","2020-03-25","2020-04-01","2020-04-08","2020-04-15","2020-04-22","2020-04-29","2020-05-06","2020-05-13","2020-05-20","2020-05-27","2020-06-03","2020-06-10","2020-06-17","2020-06-24","2020-07-01","2020-07-08","2020-07-15","2020-07-22","2020-07-29","2020-08-05","2020-08-12","2020-08-19","2020-08-26","2020-09-02","2020-09-09","2020-09-16","2020-09-23","2020-09-30","2020-10-07","2020-10-14","2020-10-21","2020-10-28","2020-11-04","2020-11-11","2020-11-18","2020-11-25","2020-12-02","2020-12-09","2020-12-16","2020-12-23","2020-12-30","2021-01-06","2021-01-13","2021-01-20","2021-01-27","2021-02-03","2021-02-10","2021-02-17","2021-02-24","2021-03-03","2021-03-10","2021-03-17","2021-03-24","2021-03-31","2021-04-07","2021-04-14","2021-04-21","2021-04-28","2021-05-05","2021-05-12","2021-05-19","2021-05-26","2021-06-02","2021-06-09","2021-06-16","2021-06-23","2021-06-30","2021-07-07","2021-07-14","2021-07-21","2021-07-28","2021-08-04","2021-08-11","2021-08-18","2021-08-25","2021-09-01","2021-09-08","2021-09-15","2021-09-22","2021-09-29","2021-10-06","2021-10-13","2021-10-20","2021-10-27","2021-11-03","2021-11-10","2021-11-17","2021-11-24","2021-12-01","2021-12-08","2021-12-15","2021-12-22","2021-12-29","2022-01-05"]}},
  "y":{"field":"c","type":"quantitative","scale":{"domain":[0,3500],"nice":false},
   "axis":{"title":"casos confirmados COVID-19","titleFontSize":23,"titleX":-118,"titleY":366,"titleBaseline":"middle","titleAlign":"center","values":[0,500,1000,1500,2000,2500,3000,3500],"format":"d","labelFontSize":21,"labelPadding":22,"ticks":false,"domain":false,"grid":true,"gridDash":[16,9],"gridColor":"#e4e4e4","gridWidth":1.5}},
  "color":{"datum":"Día de notificación","type":"nominal",
   "scale":{"domain":["Día de notificación","Eventos","Mediana 2020","Mediana 2021","Media Móvil 7 días"],"range":["#b8cce4","#000000","#ff0000","#ff0000","#c0504d"]},
   "legend":{"title":null,"orient":"none","legendX":60,"legendY":-3.5,"labelFontSize":32,"labelFont":"Open Sans","labelColor":"#000","labelLimit":0,"symbolSize":900,"rowPadding":8.5,"labelOffset":7,"padding":0,
    "encode":{"symbols":{"update":{
     "shape":{"signal":"(datum.value === 'Día de notificación' || datum.value === 'Eventos') ? 'M-2.47,-0.7H1V0.7H-2.47Z' : 'M-2.47,0H1'"},
     "fill":{"signal":"datum.value === 'Día de notificación' ? '#b8cce4' : (datum.value === 'Eventos' ? '#000000' : 'transparent')"},
     "stroke":{"signal":"datum.value === 'Media Móvil 7 días' ? '#c0504d' : ((datum.value === 'Mediana 2020' || datum.value === 'Mediana 2021') ? '#ff0000' : 'transparent')"},
     "strokeWidth":{"signal":"datum.value === 'Media Móvil 7 días' ? 5 : 2"},
     "opacity":{"value":1}}}}}}
 }},
{"data":{"name":"medians"},
 "mark":{"type":"rule","color":"#ff0000","strokeWidth":2},
 "encoding":{"x":{"field":"a","type":"ordinal","title":"Día de notificación del caso"},"x2":{"field":"b"},"y":{"field":"v","type":"quantitative","title":"casos confirmados COVID-19"}}},
{"data":{"name":"events"},
 "mark":{"type":"rule","color":"#111111","strokeWidth":1.5},
 "encoding":{"x":{"field":"d","type":"ordinal","title":"Día de notificación del caso"},"y":{"datum":0,"type":"quantitative","title":"casos confirmados COVID-19"},"y2":{"datum":3060}}},
{"data":{"name":"main"},
 "mark":{"type":"line","color":"#c0504d","strokeWidth":5,"strokeJoin":"round","strokeCap":"round"},
 "encoding":{"x":{"field":"d","type":"ordinal","title":"Día de notificación del caso"},"y":{"field":"m","type":"quantitative","title":"casos confirmados COVID-19"}}},
{"data":{"name":"medians"},
 "transform":[{"filter":"datum.v === 723"}],
 "mark":{"type":"text","align":"left","baseline":"middle","fontSize":22,"fontWeight":"bold","font":"Lato","fill":"#d2ecae","stroke":"#d2ecae","strokeWidth":9,"strokeJoin":"round","opacity":0.75,"dx":-3},
 "encoding":{"x":{"field":"tx","type":"ordinal","title":"Día de notificación del caso"},"y":{"field":"ty","type":"quantitative","title":"casos confirmados COVID-19"},"text":{"field":"t"}}},
{"data":{"name":"medians"},
 "transform":[{"filter":"datum.v === 723"}],
 "mark":{"type":"text","align":"left","baseline":"middle","fontSize":22,"fontWeight":"bold","font":"Lato","color":"#000000","dx":-3},
 "encoding":{"x":{"field":"tx","type":"ordinal","title":"Día de notificación del caso"},"y":{"field":"ty","type":"quantitative","title":"casos confirmados COVID-19"},"text":{"field":"t"}}},
{"data":{"name":"medians"},
 "transform":[{"filter":"datum.v === 640"}],
 "mark":{"type":"text","align":"left","baseline":"middle","fontSize":24.5,"fontWeight":"bold","font":"Lato","fill":"#d2ecae","stroke":"#d2ecae","strokeWidth":9,"strokeJoin":"round","opacity":0.75},
 "encoding":{"x":{"field":"tx","type":"ordinal","title":"Día de notificación del caso"},"y":{"field":"ty","type":"quantitative","title":"casos confirmados COVID-19"},"text":{"field":"t"}}},
{"data":{"name":"medians"},
 "transform":[{"filter":"datum.v === 640"}],
 "mark":{"type":"text","align":"left","baseline":"middle","fontSize":24.5,"fontWeight":"bold","font":"Lato","color":"#000000"},
 "encoding":{"x":{"field":"tx","type":"ordinal","title":"Día de notificación del caso"},"y":{"field":"ty","type":"quantitative","title":"casos confirmados COVID-19"},"text":{"field":"t"}}},
{"data":{"name":"events"},
 "transform":[{"filter":"datum.t[0] !== '14 jun:'"}],
 "mark":{"type":"text","align":"left","baseline":"top","fontSize":19,"lineHeight":25.5,"font":"Lato","color":"#000000"},
 "encoding":{"x":{"field":"tx","type":"ordinal","title":"Día de notificación del caso"},"y":{"field":"ty","type":"quantitative","title":"casos confirmados COVID-19"},"text":{"field":"t"}}},
{"data":{"name":"events"},
 "transform":[{"filter":"datum.t[0] === '14 jun:'"}],
 "mark":{"type":"text","align":"left","baseline":"top","fontSize":16.5,"lineHeight":22.5,"font":"Lato","color":"#000000"},
 "encoding":{"x":{"field":"tx","type":"ordinal","title":"Día de notificación del caso"},"y":{"field":"ty","type":"quantitative","title":"casos confirmados COVID-19"},"text":{"field":"t"}}}
]
}
